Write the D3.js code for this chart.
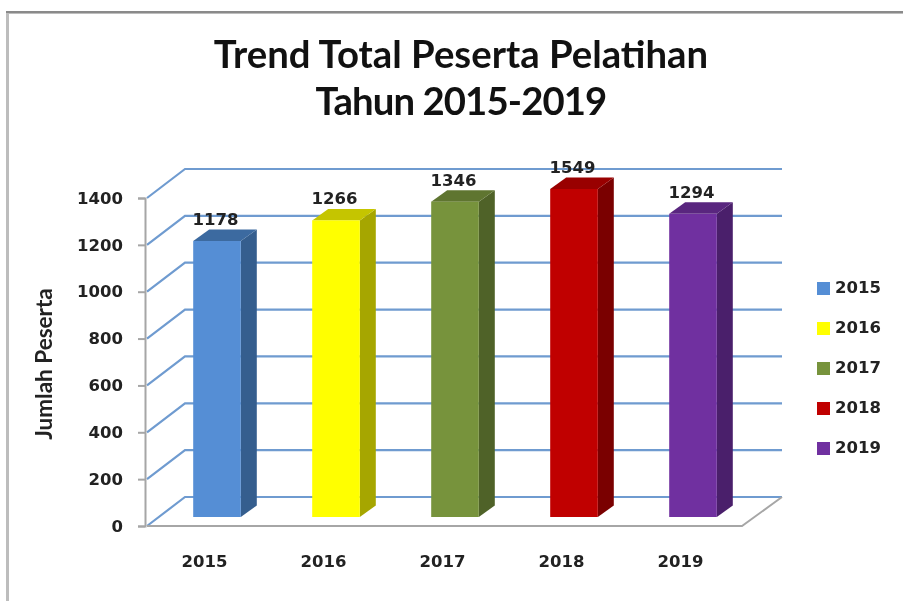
<!DOCTYPE html>
<html>
<head>
<meta charset="utf-8">
<script src="https://cdn.jsdelivr.net/npm/d3@7/dist/d3.min.js"></script>
<style>
html,body{margin:0;padding:0;background:#fff;overflow:hidden}
svg{display:block;filter:blur(0.7px)}
</style>
</head>
<body>
<svg id="c" width="903" height="601"></svg>
<script>
const categories = ["2015","2016","2017","2018","2019"];
const values = [1178,1266,1346,1549,1294];
const yTicks = [0,200,400,600,800,1000,1200,1400];
const titleLines = ["Trend Total Peserta Pelatihan","Tahun 2015-2019"];
const yTitle = "Jumlah Peserta";
const frontColors = ["#558ed5","#ffff00","#77933c","#c00000","#7030a0"];
const sideColors = ["#355e8e","#a6a600","#4f6228","#7a0000","#4a1f6b"];
const topColors = ["#3c6aa0","#c5c500","#5f7530","#990000","#59267f"];

const labelFont = "'DejaVu Sans',sans-serif";
const labelSize = "16.5px";
const svg = d3.select("#c");

// frame
svg.append("path").attr("d","M7.5 601V12.5H903").attr("fill","none").attr("stroke","#bdbdbd").attr("stroke-width",3);
svg.append("path").attr("d","M6 12H903").attr("stroke","#8a8a8a").attr("stroke-width",2);

const y = d3.scaleLinear().domain([0,1400]).range([526,198]).clamp(true);
const x = d3.scaleBand().domain(categories).range([145,740]).paddingInner(0.6).paddingOuter(0.3);
const dx = 40, dy = -29;          // wall depth
const barDx = 12.5, barDy = -9;   // bar offset into floor
const sideX = 16, sideY = -11.5;  // bar depth
const plotR = 742;

// title
svg.append("text").attr("x",461).attr("text-anchor","middle")
  .style("font-family","Lato,sans-serif").style("font-weight",700).style("font-size","38.3px").attr("fill","#111")
  .selectAll("tspan").data(titleLines).join("tspan")
  .attr("x",461).attr("y",(d,i)=>68+i*47)
  .style("letter-spacing",(d,i)=>i?"-0.9px":"0").text(d=>d);

// grid
const grid = svg.append("g").attr("fill","none").attr("stroke","#6f9bd0").attr("stroke-width",2.2);
grid.selectAll("path").data(yTicks).join("path")
  .attr("d",t=>d3.line()([[147,y(t)],[147+dx-2,y(t)+dy],[plotR+dx,y(t)+dy]]));

// floor
svg.append("path").attr("d",d3.line()([[147,y(0)],[plotR,y(0)],[plotR+dx,y(0)+dy]]))
  .attr("fill","none").attr("stroke","#a6a6a6").attr("stroke-width",2);

// bars
const bars = svg.append("g").selectAll("g").data(categories).join("g");
bars.each(function(c,i){
  const g = d3.select(this);
  const b = x.bandwidth();
  const l = x(c)+barDx, r = l+b, t = y(values[i])+barDy, f = y(0)+barDy;
  g.append("path").attr("fill",sideColors[i])
    .attr("d",d3.line()([[r,t],[r+sideX,t+sideY],[r+sideX,f+sideY],[r,f]])+"Z");
  g.append("path").attr("fill",topColors[i])
    .attr("d",d3.line()([[l,t],[l+sideX,t+sideY],[r+sideX,t+sideY],[r,t]])+"Z");
  g.append("rect").attr("x",l).attr("y",t).attr("width",b).attr("height",f-t).attr("fill",frontColors[i]);
  g.append("text").attr("x",l+b/2-1.5).attr("y",t-16).attr("text-anchor","middle")
    .style("font-family",labelFont).style("font-weight",700).style("font-size",labelSize).attr("fill","#222")
    .text(values[i]);
});

// y axis
const yAxis = svg.append("g").attr("transform","translate(145,0)")
  .call(d3.axisLeft(y).tickValues(yTicks).tickSize(7).tickPadding(15).tickFormat(d3.format("d")));
yAxis.selectAll("path,line").attr("stroke","#a6a6a6").attr("stroke-width",2);
yAxis.selectAll("text").style("font-family",labelFont).style("font-weight",700).style("font-size",labelSize).attr("fill","#222");

// x axis labels
const xAxis = svg.append("g").attr("transform","translate(0,526)")
  .call(d3.axisBottom(x).tickSize(0).tickPadding(29));
xAxis.select("path").remove();
xAxis.selectAll("text").style("font-family",labelFont).style("font-weight",700).style("font-size",labelSize).attr("fill","#222");

// y title
svg.append("text").attr("transform","translate(52,364) rotate(-90)").attr("text-anchor","middle")
  .style("font-family","Lato,sans-serif").style("font-weight",700).style("font-size","22.5px").attr("fill","#222").text(yTitle);

// legend
const leg = svg.append("g").selectAll("g").data(categories).join("g")
  .attr("transform",(d,i)=>`translate(817,${288+i*40})`);
leg.append("rect").attr("x",0).attr("y",-6).attr("width",13).attr("height",13).attr("fill",(d,i)=>frontColors[i]);
leg.append("text").attr("x",18).attr("y",5).text(d=>d)
  .style("font-family",labelFont).style("font-weight",700).style("font-size",labelSize).attr("fill","#222");
</script>
</body>
</html>
